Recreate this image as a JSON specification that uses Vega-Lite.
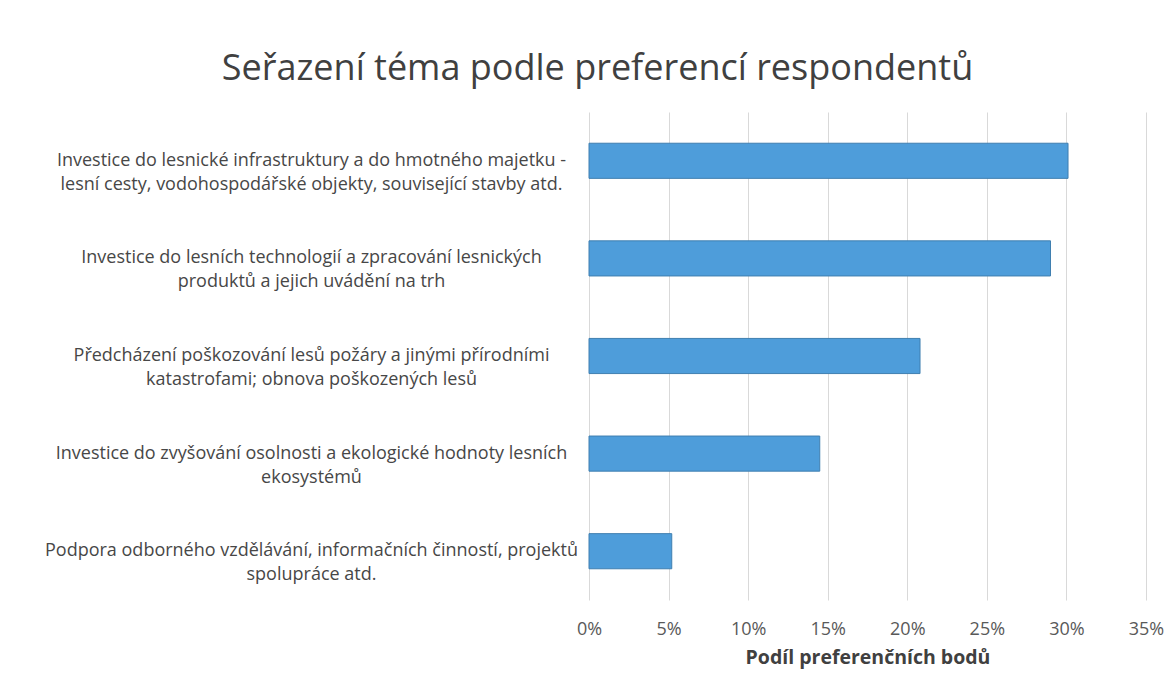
{
  "$schema": "https://vega.github.io/schema/vega-lite/v6.json",
  "autosize": "none",
  "padding": {"left": 589, "top": 112, "right": 29, "bottom": 95},
  "width": 557,
  "height": 488,
  "background": "white",
  "title": {
    "text": "Seřazení téma podle preferencí respondentů",
    "font": "Open Sans",
    "fontSize": 36,
    "fontWeight": "normal",
    "color": "#404040",
    "anchor": "middle",
    "dx": -270,
    "offset": 24
  },
  "data": {
    "values": [
      {"tema": "Investice do lesnické infrastruktury a do hmotného majetku -\nlesní cesty, vodohospodářské objekty, související stavby atd.", "podil": 0.301},
      {"tema": "Investice do lesních technologií a zpracování lesnických\nproduktů a jejich uvádění na trh", "podil": 0.290},
      {"tema": "Předcházení poškozování lesů požáry a jinými přírodními\nkatastrofami; obnova poškozených lesů", "podil": 0.208},
      {"tema": "Investice do zvyšování osolnosti a ekologické hodnoty lesních\nekosystémů", "podil": 0.145},
      {"tema": "Podpora odborného vzdělávání, informačních činností, projektů\nspolupráce atd.", "podil": 0.052}
    ]
  },
  "mark": {"type": "bar", "color": "#4E9DDA", "stroke": "#3F7FB0", "strokeWidth": 1},
  "encoding": {
    "y": {
      "field": "tema",
      "type": "nominal",
      "sort": "-x",
      "scale": {"paddingInner": 0.64, "paddingOuter": 0.32},
      "axis": {
        "title": null,
        "domain": false,
        "ticks": false,
        "grid": false,
        "labelExpr": "split(datum.label, '\\n')",
        "labelAlign": "center",
        "labelPadding": 278,
        "labelLimit": 700,
        "labelLineHeight": 24,
        "labelFont": "Open Sans",
        "labelFontSize": 18,
        "labelColor": "#474747"
      }
    },
    "x": {
      "field": "podil",
      "type": "quantitative",
      "scale": {"domain": [0, 0.35], "nice": false},
      "axis": {
        "title": "Podíl preferenčních bodů",
        "format": ".0%",
        "values": [0, 0.05, 0.1, 0.15, 0.2, 0.25, 0.3, 0.35],
        "labelFlush": false,
        "domain": false,
        "ticks": false,
        "grid": true,
        "gridColor": "#d9d9d9",
        "gridWidth": 1,
        "labelFont": "Open Sans",
        "labelFontSize": 18,
        "labelColor": "#595959",
        "labelPadding": 20,
        "titleFont": "Open Sans",
        "titleFontSize": 19.5,
        "titleFontWeight": "bold",
        "titleColor": "#404040",
        "titlePadding": 10
      }
    }
  },
  "config": {"view": {"stroke": null}}
}
